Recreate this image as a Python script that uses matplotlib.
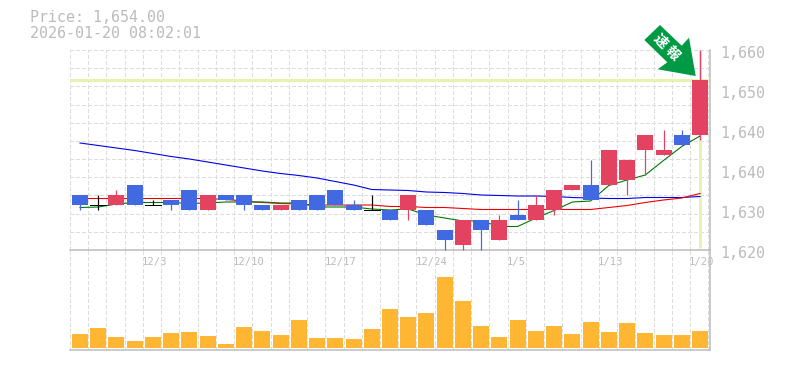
from matplotlib import pyplot as plt
from matplotlib.patches import Polygon

plt.rcParams['font.family'] = ['DejaVu Sans Mono']

TEXT_GREY = '#bbbbbb'
GRID_GREY = '#dddddd'
UP_COLOR = '#e34361'
DOWN_COLOR = '#4169e1'

# prices, one per session
opens = [1631, 1629, 1629, 1633, 1629, 1630, 1632, 1628, 1631, 1631, 1629, 1628, 1630, 1631, 1632, 1629, 1628,
         1628, 1628, 1628, 1624, 1621, 1626, 1622, 1627, 1626, 1628, 1632, 1633, 1633, 1634, 1640, 1639, 1643, 1643]
closes = [1629, 1629, 1631, 1629, 1629, 1629, 1628, 1631, 1630, 1629, 1628, 1629, 1628, 1628, 1629, 1628, 1628,
          1626, 1631, 1625, 1622, 1626, 1624, 1626, 1626, 1629, 1632, 1633, 1630, 1640, 1638, 1643, 1640, 1641, 1654]
highs = [1631, 1631, 1632, 1633, 1630, 1630, 1632, 1631, 1631, 1631, 1629, 1629, 1630, 1631, 1632, 1630, 1631,
         1628, 1631, 1628, 1624, 1626, 1626, 1627, 1630, 1631, 1632, 1633, 1638, 1640, 1638, 1643, 1644, 1644, 1660]
lows = [1628, 1628, 1629, 1629, 1629, 1628, 1628, 1628, 1630, 1628, 1628, 1628, 1628, 1628, 1629, 1628, 1628,
        1626, 1626, 1625, 1620, 1620, 1620, 1622, 1626, 1626, 1627, 1632, 1630, 1633, 1631, 1635, 1639, 1641, 1642]
volumes = [14, 20, 11, 7, 11, 15, 16, 12, 4, 21, 17, 13, 28, 10, 10, 9, 19, 39,
           31, 35, 71, 47, 22, 11, 28, 17, 22, 14, 26, 16, 25, 15, 13, 13, 17]
ma_short = [1628.5, 1628.6, 1629.2, 1629.5, 1629.5, 1629.5, 1629.3, 1629.4, 1629.6, 1629.6, 1629.6, 1629.4,
            1629.4, 1628.6, 1628.6, 1628.6, 1628.2, 1628.0, 1628.2, 1627.0, 1626.4, 1625.8, 1625.8, 1624.7,
            1624.7, 1626.4, 1627.9, 1629.6, 1629.8, 1632.9, 1634.0, 1635.0, 1637.9, 1640.7, 1642.8]
ma_mid = [1630.3, 1630.3, 1630.3, 1630.3, 1630.3, 1630.3, 1630.3, 1630.3, 1630.1, 1629.8, 1629.5, 1629.3,
          1629.2, 1629.0, 1629.0, 1629.0, 1629.0, 1628.7, 1628.7, 1628.5, 1628.5, 1628.3, 1628.1, 1628.1,
          1628.1, 1628.1, 1628.1, 1628.1, 1628.1, 1628.5, 1628.9, 1629.5, 1630.0, 1630.4, 1631.3]
ma_long = [1641.4, 1640.9, 1640.4, 1639.9, 1639.3, 1638.7, 1638.2, 1637.6, 1637.0, 1636.4, 1635.8, 1635.3,
           1634.9, 1634.4, 1633.7, 1633.0, 1632.1, 1632.0, 1631.9, 1631.6, 1631.5, 1631.3, 1631.0, 1630.9,
           1630.8, 1630.8, 1630.7, 1630.5, 1630.4, 1630.3, 1630.3, 1630.5, 1630.5, 1630.5, 1630.7]

date_indexes = [4, 9, 14, 19, 24, 29, 34]
date_labels = ['12/3', '12/10', '12/17', '12/24', '1/5', '1/13', '1/20']
price_ticks = [1660, 1652, 1644, 1636, 1628, 1620]
price_labels = ['1,660', '1,650', '1,640', '1,640', '1,630', '1,620']
last_price = 1654

W, H = 785, 370
fig = plt.figure(figsize=(W / 72, H / 72), dpi=72)
ax = fig.add_axes([70 / W, 1 - 250 / H, 640 / W, 200 / H])
ax_vol = fig.add_axes([70 / W, 1 - 350 / H, 640 / W, 100 / H])

x_left, x_right = -10 / 18.235, 630 / 18.235
xs = list(range(len(closes)))
grid_xs = [x_left + k for k in range(36) if x_left + k < x_right]

for a in (ax, ax_vol):
    a.set_xlim(x_left, x_right)
    a.set_xticks([])
    a.set_yticks([])
    a.patch.set_alpha(0)
    for side in ('top', 'left'):
        a.spines[side].set_visible(False)
    for side in ('bottom', 'right'):
        a.spines[side].set_color(TEXT_GREY)
        a.spines[side].set_linewidth(1.5)
    a.vlines(grid_xs, 0, 1, transform=a.get_xaxis_transform(), color=GRID_GREY, linewidth=1,
             linestyle=(0, (3, 2)), zorder=1, antialiased=False)

ax.set_ylim(1620, 1660)
ax_vol.set_ylim(-2, 98)

grid_step = 40 / 11
for k in range(1, 12):
    ax.axhline(1620 + k * grid_step, color=GRID_GREY, linewidth=1, linestyle=(0, (3, 2)), zorder=1, antialiased=False)

ax.axhline(last_price, color='#e6f2b2', linewidth=3, zorder=2)
ax.vlines(xs[-1], 1620.4, 1660, color='#e6f2b2', linewidth=3, zorder=2)

ax.plot(xs, ma_long, color='#0000ee', linewidth=1.1, zorder=3)
ax.plot(xs, ma_mid, color='#ee0000', linewidth=1.1, zorder=3)
ax.plot(xs, ma_short, color='#007700', linewidth=1.1, zorder=3)

for i in xs:
    if closes[i] > opens[i]:
        color = UP_COLOR
    elif closes[i] < opens[i]:
        color = DOWN_COLOR
    else:
        color = 'black'
    ax.vlines(i, lows[i], highs[i], color=color, linewidth=1.2, zorder=4, clip_on=False)
    if color == 'black':
        ax.hlines(closes[i], i - 8 / 18.235, i + 8 / 18.235, color=color, linewidth=1, zorder=4, antialiased=False)
    else:
        ax.bar(i, abs(closes[i] - opens[i]), bottom=min(opens[i], closes[i]), width=16 / 18.235, color=color, zorder=5)

ax_vol.bar(xs, volumes, width=16 / 18.235, color='#ffb733', zorder=3)

# date labels start on the gridline left of their session
for i, label in zip(date_indexes, date_labels):
    ax.annotate(label, xy=(i, 0), xycoords=ax.get_xaxis_transform(), xytext=(-11, -12), textcoords='offset points',
                ha='left', va='center', fontsize=10.5, color=TEXT_GREY)

for value, label in zip(price_ticks, price_labels):
    ax.annotate(label, xy=(1, value), xycoords=ax.get_yaxis_transform(), xytext=(10, -3), textcoords='offset points',
                ha='left', va='center', fontsize=15, color=TEXT_GREY)

fig.text(30 / W, 1 - 18 / H, 'Price: 1,654.00', ha='left', va='center', fontsize=15, color=TEXT_GREY)
fig.text(30 / W, 1 - 33 / H, '2026-01-20 08:02:01', ha='left', va='center', fontsize=15, color=TEXT_GREY)

# green callout arrow, outline in picture pixels
arrow_px = [(660, 25), (644.3, 40), (667.3, 62.3), (657.7, 69.3), (695.7, 76), (689, 37.7), (681.7, 45.7)]
arrow_fig = [(x / W, 1 - y / H) for x, y in arrow_px]
fig.add_artist(Polygon(arrow_fig, closed=True, transform=fig.transFigure, facecolor='#009944', edgecolor='none', zorder=10))
fig.text(660 / W, 1 - 41 / H, '速', rotation=-45, rotation_mode='anchor', ha='center', va='center', fontsize=14,
         fontweight='bold', color='white', family=['Noto Sans CJK JP', 'DejaVu Sans'], zorder=11)
fig.text(672 / W, 1 - 53 / H, '報', rotation=-45, rotation_mode='anchor', ha='center', va='center', fontsize=14,
         fontweight='bold', color='white', family=['Noto Sans CJK JP', 'DejaVu Sans'], zorder=11)

fig.savefig('out.png', dpi=72)
plt.clf()
